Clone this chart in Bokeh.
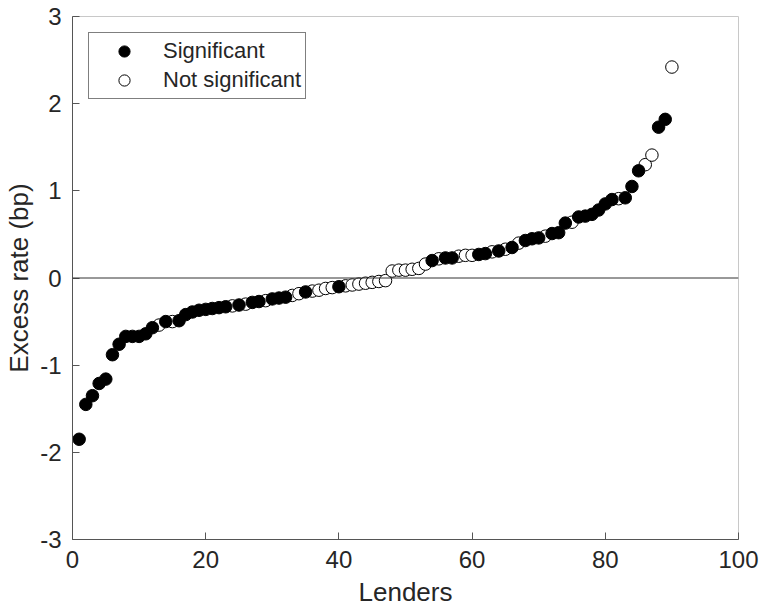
from bokeh.plotting import figure
from bokeh.models import ColumnDataSource, Span, FixedTicker, Legend, LegendItem, Range1d
from bokeh.embed import file_html
from bokeh.resources import INLINE

lenders = list(range(1, 91))
excess_rate = [
    -1.85, -1.45, -1.35, -1.21, -1.16, -0.88, -0.76, -0.67, -0.67, -0.67,
    -0.64, -0.57, -0.54, -0.50, -0.50, -0.49, -0.42, -0.39, -0.37, -0.36,
    -0.35, -0.34, -0.33, -0.32, -0.31, -0.30, -0.28, -0.27, -0.26, -0.24,
    -0.23, -0.22, -0.20, -0.18, -0.16, -0.15, -0.14, -0.12, -0.11, -0.10,
    -0.09, -0.08, -0.07, -0.06, -0.05, -0.04, -0.03, 0.08, 0.09, 0.09,
    0.10, 0.11, 0.16, 0.20, 0.22, 0.23, 0.23, 0.25, 0.26, 0.26,
    0.27, 0.28, 0.30, 0.31, 0.33, 0.35, 0.40, 0.43, 0.45, 0.46,
    0.48, 0.51, 0.52, 0.63, 0.64, 0.70, 0.71, 0.73, 0.78, 0.85,
    0.90, 0.91, 0.92, 1.05, 1.23, 1.30, 1.41, 1.73, 1.82, 2.42,
]
significant = [
    1, 1, 1, 1, 1, 1, 1, 1, 1, 1,
    1, 1, 0, 1, 0, 1, 1, 1, 1, 1,
    1, 1, 1, 0, 1, 0, 1, 1, 0, 1,
    1, 1, 0, 0, 1, 0, 0, 0, 0, 1,
    0, 0, 0, 0, 0, 0, 0, 0, 0, 0,
    0, 0, 0, 1, 0, 1, 1, 0, 0, 0,
    1, 1, 0, 1, 0, 1, 0, 1, 1, 1,
    0, 1, 1, 1, 0, 1, 1, 1, 1, 1,
    1, 0, 1, 1, 1, 0, 0, 1, 1, 0,
]
x_ticks = [0, 20, 40, 60, 80, 100]
y_ticks = [-3, -2, -1, 0, 1, 2, 3]

sig_src = ColumnDataSource(dict(
    x=[l for l, s in zip(lenders, significant) if s],
    y=[v for v, s in zip(excess_rate, significant) if s]))
ns_src = ColumnDataSource(dict(
    x=[l for l, s in zip(lenders, significant) if not s],
    y=[v for v, s in zip(excess_rate, significant) if not s]))

FONT = "Liberation Sans"
TXT = "#262626"

p = figure(width=760, height=609, output_backend="svg", toolbar_location=None,
           x_range=Range1d(0, 100), y_range=Range1d(-3, 3),
           min_border_left=72, min_border_right=22, min_border_top=16, min_border_bottom=68)
p.background_fill_color = "white"
p.border_fill_color = "white"
p.outline_line_color = "#c8c8c8"
p.outline_line_width = 1
p.xgrid.visible = False
p.ygrid.visible = False

zero = Span(location=0, dimension="width", line_color="#333333", line_width=1)
p.add_layout(zero)

r_ns = p.scatter("x", "y", source=ns_src, size=12.5, marker="circle",
                 fill_color="white", line_color="black", line_width=1)
r_sig = p.scatter("x", "y", source=sig_src, size=12.5, marker="circle",
                  fill_color="black", line_color="black", line_width=1)

for ax, ticks in ((p.xaxis, x_ticks), (p.yaxis, y_ticks)):
    ax.ticker = FixedTicker(ticks=ticks)
    ax.major_label_overrides = {t: str(t) for t in ticks}
    ax.major_tick_in = 7
    ax.major_tick_out = 0
    ax.minor_tick_line_color = None
    ax.axis_line_color = "#555555"
    ax.major_tick_line_color = "#555555"
    ax.major_label_text_font = FONT
    ax.major_label_text_color = TXT
    ax.major_label_text_font_size = "24px"
    ax.axis_label_text_font = FONT
    ax.axis_label_text_color = TXT
    ax.axis_label_text_font_size = "26px"
    ax.axis_label_text_font_style = "normal"

p.xaxis.axis_label = "Lenders"
p.yaxis.axis_label = "Excess rate (bp)"
p.xaxis.major_label_standoff = 11
p.xaxis.axis_label_standoff = 6
p.yaxis.major_label_standoff = 11
p.yaxis.axis_label_standoff = 3

legend = Legend(items=[LegendItem(label="Significant", renderers=[r_sig]),
                       LegendItem(label="Not significant", renderers=[r_ns])],
                location="top_left", margin=16, padding=4, spacing=1,
                glyph_width=62, glyph_height=28, label_standoff=8,
                label_text_font=FONT, label_text_font_size="22px",
                label_text_color=TXT,
                border_line_color="black", border_line_width=1,
                background_fill_color="white", background_fill_alpha=1)
p.add_layout(legend)

open("out.html", "w").write(file_html(p, INLINE))
